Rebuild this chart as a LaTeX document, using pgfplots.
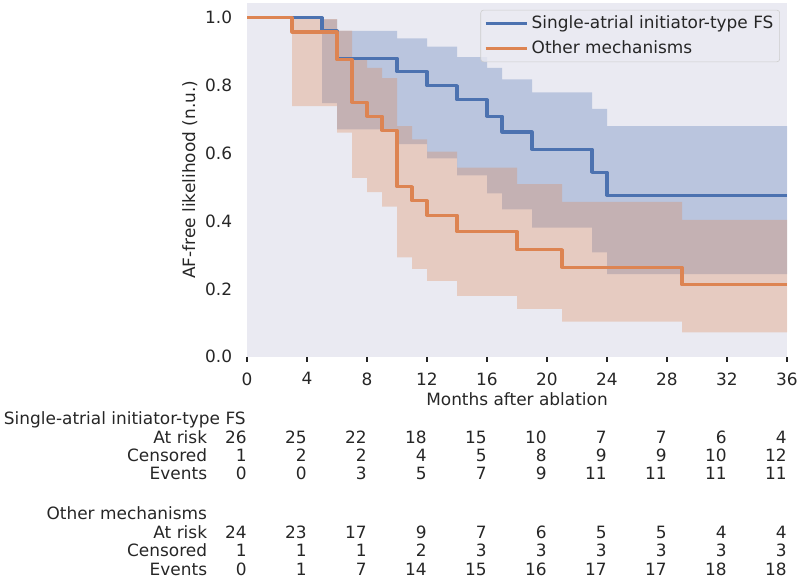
\documentclass[border=0pt]{standalone}
\usepackage{fontspec}
\setmainfont{DejaVu Sans}
\usepackage{pgfplots}
\pgfplotsset{compat=1.18}
\usepgfplotslibrary{fillbetween}
\definecolor{bgc}{HTML}{EAEAF2}
\definecolor{cblue}{HTML}{4C72B0}
\definecolor{corange}{HTML}{DD8452}
\definecolor{txt}{HTML}{262626}
\definecolor{legedge}{HTML}{CCCCCC}
\newcommand\ff{\fontsize{12.2}{14.6}\selectfont}
\begin{document}
\ff
\begin{tikzpicture}
\begin{axis}[
  at={(177.84pt,159.12pt)}, anchor=south west,
  scale only axis, width=388.8pt, height=254.88pt,
  xmin=0, xmax=36, ymin=0, ymax=1.0442,
  axis background/.style={fill=bgc},
  axis line style={draw=none},
  xtick={0,4,...,36}, ytick={0,0.2,0.4,0.6,0.8,1.0},
  y tick label style={/pgf/number format/fixed, /pgf/number format/fixed zerofill, /pgf/number format/precision=1},
  /pgf/number format/assume math mode=true,
  tick align=outside, xtick pos=bottom, ytick pos=left,
  major tick length=3.5pt,
  xtick style={draw=txt, line width=0.8pt},
  ytick style={draw=none},
  ticklabel style={font=\ff, text=txt},
  yticklabel style={xshift=-3pt},
  xticklabel style={yshift=-3.5pt},
  xlabel={Months after ablation},
  xlabel style={at={(axis description cs:0.5,-0.1384)}, anchor=base, font=\ff, text=txt},
  ylabel={AF-free likelihood (n.u.)},
  ylabel style={at={(axis description cs:-0.0961,0.5)}, anchor=base, font=\ff, text=txt},
  legend style={at={(0.987,0.980)}, anchor=north east, fill=bgc, fill opacity=0.8, text opacity=1,
    draw=legedge, rounded corners=2pt, font=\ff, text=txt,
    inner xsep=2.5pt, inner ysep=2pt, row sep=3pt},
  legend cell align=left,
  legend image code/.code={\draw[#1] (0pt,0pt) -- (26pt,0pt); \path (0pt,0pt) -- (30pt,0pt);},
]
% Blue confidence band
\addplot[const plot, draw=none, name path=bu, forget plot] coordinates {
(0,1) (5,0.995) (6,0.961) (10,0.939) (12,0.915) (14,0.884) (16,0.852) (17,0.818) (19,0.780) (23,0.731) (24,0.680) (36,0.680)};
\addplot[const plot, draw=none, name path=bl, forget plot] coordinates {
(0,1) (5,0.748) (6,0.671) (10,0.627) (12,0.585) (14,0.535) (16,0.482) (17,0.435) (19,0.381) (23,0.308) (24,0.244) (36,0.244)};
\addplot[fill=cblue, fill opacity=0.3, draw=none, forget plot] fill between[of=bu and bl];
% Orange confidence band
\addplot[const plot, draw=none, name path=ou, forget plot] coordinates {
(0,1) (3,0.996) (6,0.962) (7,0.876) (8,0.852) (9,0.822) (10,0.680) (11,0.641) (12,0.605) (14,0.558) (18,0.509) (21,0.457) (29,0.404) (36,0.404)};
\addplot[const plot, draw=none, name path=ol, forget plot] coordinates {
(0,1) (3,0.739) (6,0.661) (7,0.528) (8,0.486) (9,0.443) (10,0.293) (11,0.259) (12,0.224) (14,0.180) (18,0.141) (21,0.104) (29,0.072) (36,0.072)};
\addplot[fill=corange, fill opacity=0.3, draw=none, forget plot] fill between[of=ou and ol];
% KM curves
\addplot[const plot, cblue, line width=2.2pt, line join=round] coordinates {
(0,1) (5,0.961) (6,0.881) (10,0.841) (12,0.800) (14,0.758) (16,0.710) (17,0.663) (19,0.612) (23,0.544) (24,0.477) (36,0.477)};
\addlegendentry{Single-atrial initiator-type FS}
\addplot[const plot, corange, line width=2.2pt, line join=round] coordinates {
(0,1) (3,0.958) (6,0.876) (7,0.751) (8,0.710) (9,0.668) (10,0.502) (11,0.460) (12,0.418) (14,0.369) (18,0.316) (21,0.264) (29,0.212) (36,0.212)};
\addlegendentry{Other mechanisms}
\end{axis}
% At-risk table
\begin{scope}[every node/.style={inner sep=0pt, text=txt, font=\ff}]
\node[anchor=base east] at (177.1pt,110.66pt) {Single-atrial initiator-type FS};
\node[anchor=base east] at (149.3pt,96.98pt) {At risk};
\node[anchor=base east] at (149.3pt,83.74pt) {Censored};
\node[anchor=base east] at (149.3pt,70.56pt) {Events};
\node[anchor=base east] at (149.3pt,42.26pt) {Other mechanisms};
\node[anchor=base east] at (149.3pt,28.58pt) {At risk};
\node[anchor=base east] at (149.3pt,15.34pt) {Censored};
\node[anchor=base east] at (149.3pt,1.44pt) {Events};
\foreach \t/\a/\c/\e in {0/26/1/0,4/25/2/0,8/22/2/3,12/18/4/5,16/15/5/7,20/10/8/9,24/7/9/11,28/7/9/11,32/6/10/11,36/4/12/11}{
  \node[anchor=base east] at ({177.84pt+10.8pt*\t},96.98pt) {\a};
  \node[anchor=base east] at ({177.84pt+10.8pt*\t},83.74pt) {\c};
  \node[anchor=base east] at ({177.84pt+10.8pt*\t},70.56pt) {\e};
}
\foreach \t/\a/\c/\e in {0/24/1/0,4/23/1/1,8/17/1/7,12/9/2/14,16/7/3/15,20/6/3/16,24/5/3/17,28/5/3/17,32/4/3/18,36/4/3/18}{
  \node[anchor=base east] at ({177.84pt+10.8pt*\t},28.58pt) {\a};
  \node[anchor=base east] at ({177.84pt+10.8pt*\t},15.34pt) {\c};
  \node[anchor=base east] at ({177.84pt+10.8pt*\t},1.44pt) {\e};
}
\end{scope}
\pgfresetboundingbox
\useasboundingbox (0,0) rectangle (576pt,416pt);
\end{tikzpicture}
\end{document}
